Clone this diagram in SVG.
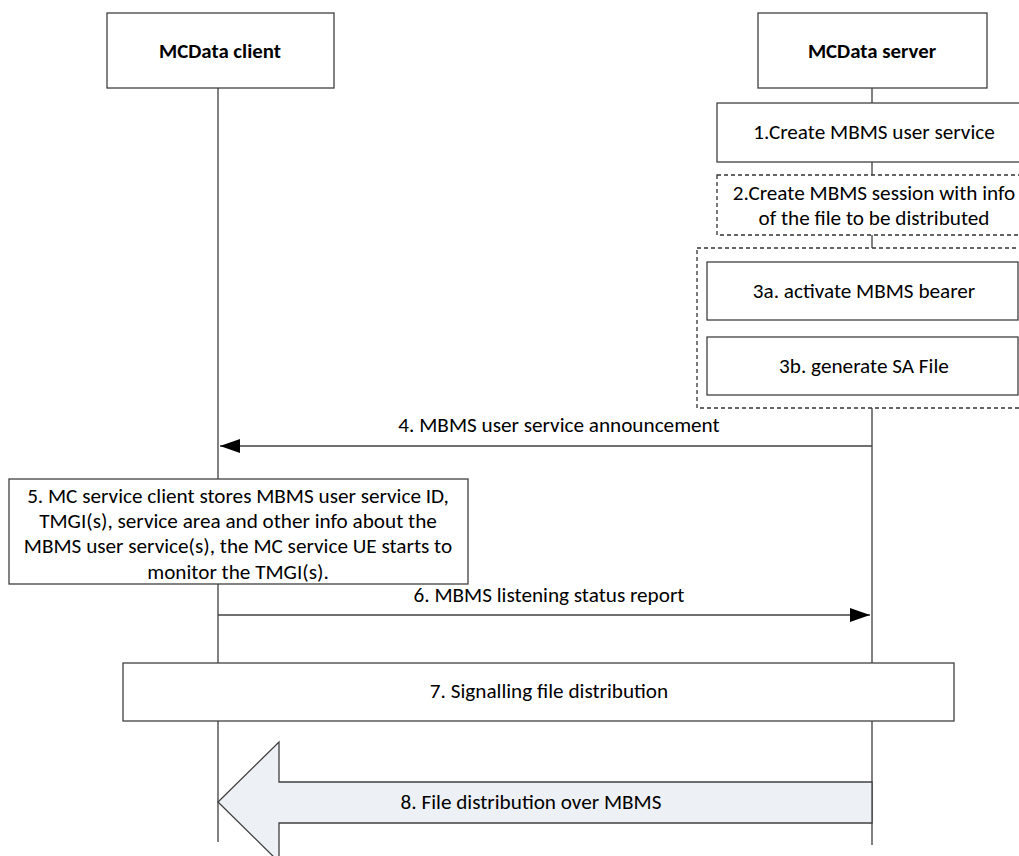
<svg xmlns="http://www.w3.org/2000/svg" width="1019" height="856" viewBox="0 0 1019 856">
<defs>
<style>
.t{font-family:Carlito,Lato,"Liberation Sans",sans-serif;font-size:21.2px;fill:#000;text-anchor:middle}
.b{font-weight:bold;font-size:20.8px}
.box{fill:#fff;stroke:#404040;stroke-width:1.3}
.dash{fill:#fff;stroke:#333;stroke-width:1.3;stroke-dasharray:4 3}
.life{stroke:#595959;stroke-width:1.5;fill:none}
.msg{stroke:#404040;stroke-width:1.5;fill:none}
</style>
<marker id="ah" viewBox="0 0 20 14" refX="20" refY="7" markerWidth="20" markerHeight="14" markerUnits="userSpaceOnUse" orient="auto">
<path d="M0,0 L20,7 L0,14 Z" fill="#000"/>
</marker>
</defs>
<rect width="1019" height="856" fill="#fff"/>
<g id="lifelines">
<line class="life" x1="218" y1="88" x2="218" y2="842"/>
<line class="life" x1="872" y1="88" x2="872" y2="845"/>
</g>
<g id="client">
<rect class="box" x="107" y="13" width="227" height="75"/>
<text class="t b" x="220" y="58">MCData client</text>
</g>
<g id="server">
<rect class="box" x="758" y="13" width="229" height="75"/>
<text class="t b" x="872" y="58">MCData server</text>
</g>
<g id="step1">
<rect class="box" x="717" y="103" width="320" height="59"/>
<text class="t" x="874" y="139">1.Create MBMS user service</text>
</g>
<g id="step2">
<rect class="dash" x="717" y="175" width="320" height="60"/>
<text class="t" x="874" y="200">2.Create MBMS session with info</text>
<text class="t" x="874" y="225">of the file to be distributed</text>
</g>
<g id="step3">
<rect class="dash" x="697" y="248" width="340" height="160"/>
<g id="step3a">
<rect class="box" x="707" y="262" width="311" height="58"/>
<text class="t" x="864" y="298">3a. activate MBMS bearer</text>
</g>
<g id="step3b">
<rect class="box" x="707" y="337" width="311" height="58"/>
<text class="t" x="864" y="373">3b. generate SA File</text>
</g>
</g>
<g id="connectors">
<line class="msg" x1="872" y1="446" x2="220" y2="446" marker-end="url(#ah)"/>
<text class="t" x="559" y="432">4. MBMS user service announcement</text>
<line class="msg" x1="218" y1="615" x2="870" y2="615" marker-end="url(#ah)"/>
<text class="t" x="549" y="602">6. MBMS listening status report</text>
</g>
<g id="step5">
<rect class="box" x="9" y="479" width="459" height="105"/>
<text class="t" x="238" y="503">5. MC service client stores MBMS user service ID,</text>
<text class="t" x="238" y="528">TMGI(s), service area and other info about the</text>
<text class="t" x="238" y="553">MBMS user service(s), the MC service UE starts to</text>
<text class="t" x="238" y="579">monitor the TMGI(s).</text>
</g>
<g id="step7">
<rect class="box" x="123" y="663" width="831" height="58"/>
<text class="t" x="549" y="698">7. Signalling file distribution</text>
</g>
<g id="step8">
<path d="M872,782 L279,782 L279,742 L218,802 L279,862 L279,823 L872,823 Z" fill="#edf0f5" stroke="#404040" stroke-width="1.3"/>
<text class="t" x="531" y="809">8. File distribution over MBMS</text>
</g>
</svg>
